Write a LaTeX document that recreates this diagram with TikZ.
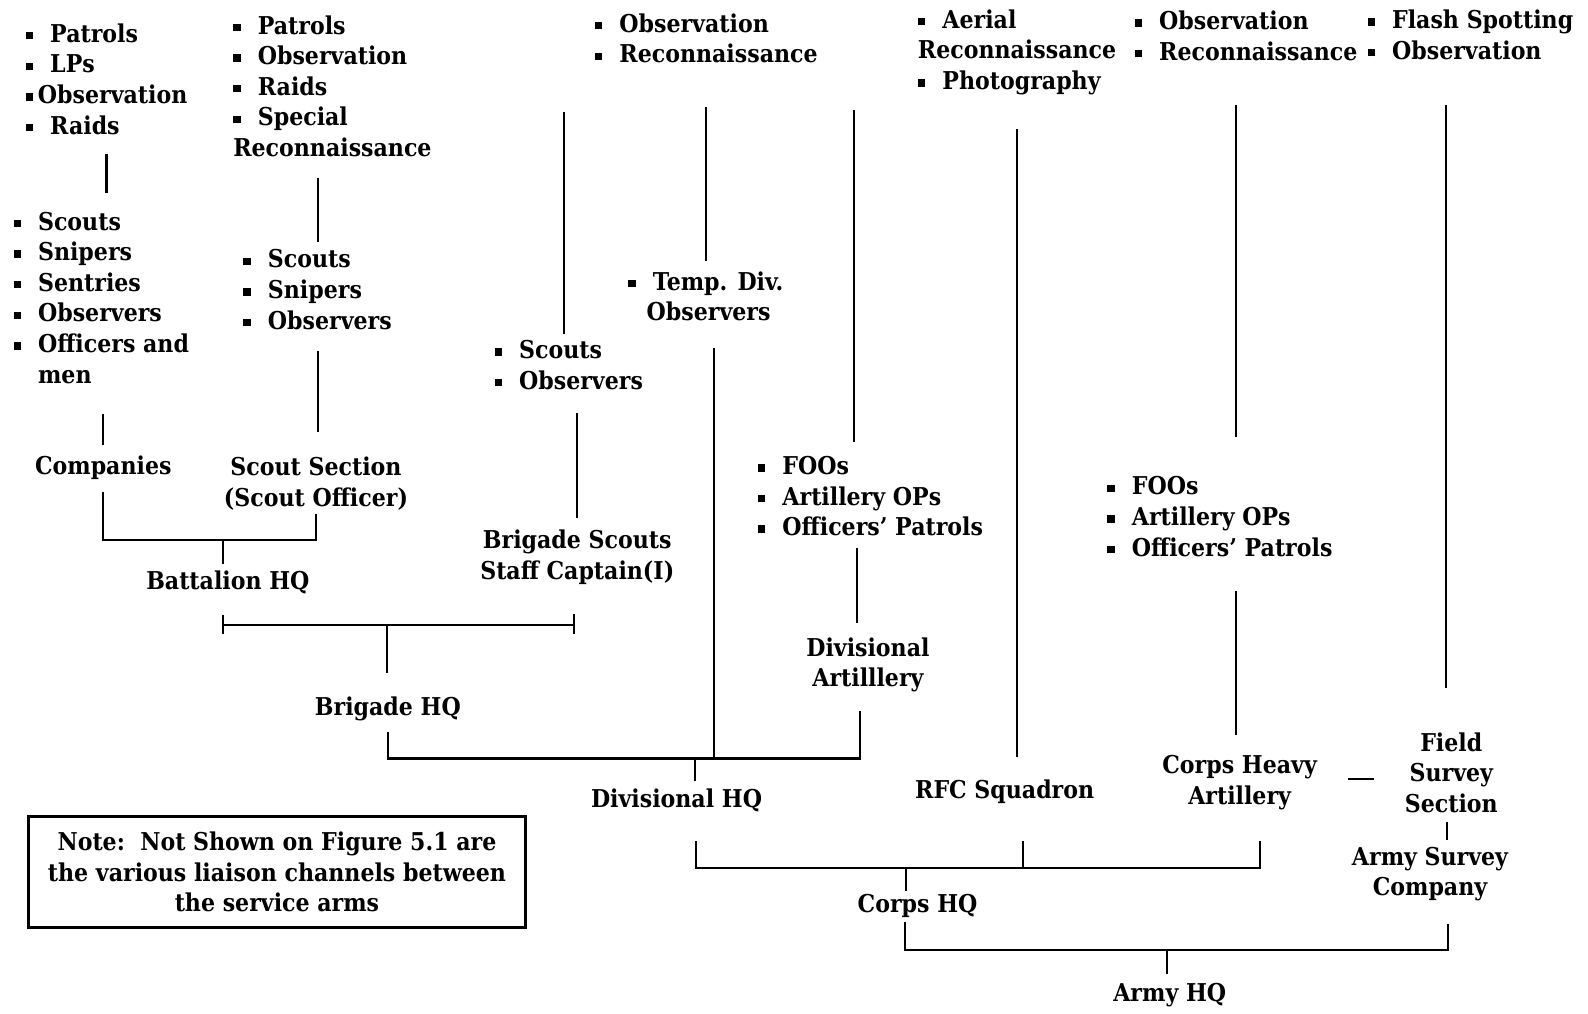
\documentclass[tikz,border=0pt]{standalone}
\usepackage{fontspec}
\setmainfont{DejaVu Serif}[BoldFeatures={FakeStretch=0.9}]
\usetikzlibrary{positioning,calc}

\newcommand{\sq}{\rule[0.12em]{0.3em}{0.3em}}
\newcommand{\bul}{\makebox[1em][l]{\sq}}
\newcommand{\nob}{\hspace*{1em}}

\begin{document}
\begin{tikzpicture}[
     x=0.02cm, y=-0.02cm,
     % define styles
     txt/.style={
         inner sep=0pt,
         font={\fontsize{13.8pt}{17.2pt}\selectfont\bfseries},
         align=center
     },
     lst/.style={
         txt,
         anchor=west,
         align=left
     },
     link/.style={
         line width=1.2pt
     },
     notebox/.style={
         txt,
         draw,
         line width=1.4pt,
         minimum width=9.82cm,
         minimum height=2.2cm
     }
]
\useasboundingbox (0,0) rectangle (1568,1001);

% battalion level
\node[lst] (patA) at (25,78) {\bul Patrols\\\bul LPs\\\makebox[0.5em][l]{\sq}Observation\\\bul Raids};
\node[lst] (scA) at (13,294) {\bul Scouts\\\bul Snipers\\\bul Sentries\\\bul Observers\\\bul Officers and\\\nob men};
\node[txt] (companies) at (102,462) {Companies};
\node[lst] (patC) at (230,85) {\bul Patrols\\\bul Observation\\\bul Raids\\\bul Special\\Reconnaissance};
\node[lst] (scD) at (240,286) {\bul Scouts\\\bul Snipers\\\bul Observers};
\node[txt] (scoutsec) at (312,477.5) {Scout Section\\(Scout Officer)};
\node[txt] (battalion) at (225,575) {Battalion HQ};

% brigade level
\node[lst] (scE) at (488,360.5) {\bul Scouts\\\bul Observers};
\node[txt] (bdscouts) at (570,550) {Brigade Scouts\\Staff Captain(I)};
\node[txt] (brigade) at (383,700) {Brigade HQ};

% division level
\node[lst] (obsF) at (587,38) {\bul Observation\\\bul Reconnaissance};
\node[lst] (tempdiv) at (620,292.5) {\bul Temp. Div.\\\hspace*{0.75em}Observers};
\node[lst] (fooH) at (748,490) {\bul FOOs\\\bul Artillery OPs\\\bul Officers' Patrols};
\node[txt] (divart) at (857,656.5) {Divisional\\Artilllery};
\node[txt] (divhq) at (668,790) {Divisional HQ};

% corps level
\node[lst] (aerialI) at (906,51.7) {\bul Aerial\\Reconnaissance\\\bul Photography};
\node[txt] (rfc) at (992,782) {RFC Squadron};
\node[lst] (obsJ) at (1120,35.5) {\bul Observation\\\bul Reconnaissance};
\node[lst] (fooK) at (1093,510) {\bul FOOs\\\bul Artillery OPs\\\bul Officers' Patrols};
\node[txt] (corpsheavy) at (1224,773) {Corps Heavy\\Artillery};
\node[txt] (corpshq) at (906,895) {Corps HQ};

% army level
\node[lst] (flashL) at (1350,34.5) {\bul Flash Spotting\\\bul Observation};
\node[txt] (fieldsurvey) at (1433,763) {Field\\Survey\\Section};
\node[txt] (armysurvey) at (1412,863) {Army Survey\\Company};
\node[txt] (armyhq) at (1155,983) {Army HQ};

% note
\node[notebox] (note) at (273.5,861) {Note:\ \ Not Shown on Figure 5.1 are\\the various liaison channels between\\the service arms};

% junctions of the brackets
\coordinate (bnj) at (220,533);
\coordinate (brj) at (382,617);
\coordinate (dvj) at (686,749);
\coordinate (cpj) at (895,857);
\coordinate (arj) at (1152,938);

% lines inside the battalion
\draw[link, shorten <=11pt, shorten >=10.3pt] (patA.south) -- (patA.south |- scA.north);
\draw[link, shorten <=17pt, shorten >=5.9pt] (scA.south -| companies) -- (companies.north);
\draw[link, shorten <=11.7pt, shorten >=4pt] (scD.north |- patC.south) -- (scD.north);
\draw[link, shorten <=12pt, shorten >=14pt] (scD.south) -- (scD.south |- scoutsec.north);
\draw[link, shorten <=6.5pt, shorten >=2pt] (companies.south) |- (bnj) -| (scoutsec.south);
\draw[link, shorten >=3.8pt] (bnj) -- (bnj |- battalion.north);

% battalion and brigade scouts up to brigade HQ
\draw[link, shorten <=11.4pt, shorten >=16.7pt] ($(battalion.south)+(-5,0)$) |- (brj) -| ($(bdscouts.south)+(-3,0)$);
\draw[link] ($(battalion.south |- brj)+(-5,0)$) -- ++(0,9);
\draw[link] ($(bdscouts.south |- brj)+(-3,0)$) -- ++(0,9);
\draw[link, shorten >=13pt] (brj) -- (brj |- brigade.north);
\draw[link, shorten <=13pt, shorten >=6.5pt] (bdscouts.north |- scE.south) -- (bdscouts.north);

% lines from observation and reconnaissance
\draw[link, shorten <=27pt, shorten >=3.5pt] ($(scE.north |- obsF.south)+(-5,0)$) -- ($(scE.north)+(-5,0)$);
\draw[link, shorten <=24.5pt, shorten >=5.8pt] (tempdiv.north |- obsF.south) -- (tempdiv.north);
\draw[link, shorten <=26pt, shorten >=8pt] ($(fooH.north |- obsF.south)+(-16,0)$) -- ($(fooH.north)+(-16,0)$);
\draw[link, shorten <=6.3pt, shorten >=8.2pt] ($(divart.north |- fooH.south)+(-11,0)$) -- ($(divart.north)+(-11,0)$);

% bracket to divisional HQ
\draw[link, shorten <=5.9pt, shorten >=10.4pt] (brigade.south) |- (dvj) -| ($(divart.south)+(-8,0)$);
\draw[link, shorten <=15pt] ($(tempdiv.south)+(8,0)$) -- ($(tempdiv.south |- dvj)+(8,0)$);
\draw[link, shorten >=4pt] (dvj) -- (dvj |- divhq.north);

% corps lines
\draw[link, shorten <=19pt, shorten >=12.9pt] (aerialI.south) -- (aerialI.south |- rfc.north);
\draw[link, shorten <=24.5pt, shorten >=22.3pt] ($(obsJ.south)+(-10,0)$) -- ($(obsJ.south |- fooK.north)+(-10,0)$);
\draw[link, shorten <=19.4pt, shorten >=11.6pt] ($(corpsheavy.north |- fooK.south)+(-4,0)$) -- ($(corpsheavy.north)+(-4,0)$);
\draw[link] ($(corpsheavy.east)!0.35!(fieldsurvey.west)$) -- ++(26,0);

% bracket to corps HQ
\draw[link, shorten <=16.5pt, shorten >=17pt] ($(divhq.south)+(19,0)$) |- (cpj) -| ($(corpsheavy.south)+(20,0)$);
\draw[link, shorten <=20.7pt] ($(rfc.south)+(18,0)$) -- ($(rfc.south |- cpj)+(18,0)$);
\draw[link, shorten >=2pt] (cpj) -- (cpj |- corpshq.north);

% army lines
\draw[link, shorten <=25pt, shorten >=25pt] ($(flashL.south)+(-24,0)$) -- ($(flashL.south |- fieldsurvey.north)+(-24,0)$);
\draw[link, shorten <=5pt, shorten >=3.6pt] ($(fieldsurvey.south)+(-4,0)$) -- ($(fieldsurvey.south |- armysurvey.north)+(-4,0)$);

% bracket to army HQ
\draw[link, shorten <=2pt, shorten >=12.7pt] ($(corpshq.south)+(-12,0)$) |- (arj) -| ($(armysurvey.south)+(18,0)$);
\draw[link, shorten >=5.3pt] (arj) -- (arj |- armyhq.north);
\end{tikzpicture}
\end{document}
